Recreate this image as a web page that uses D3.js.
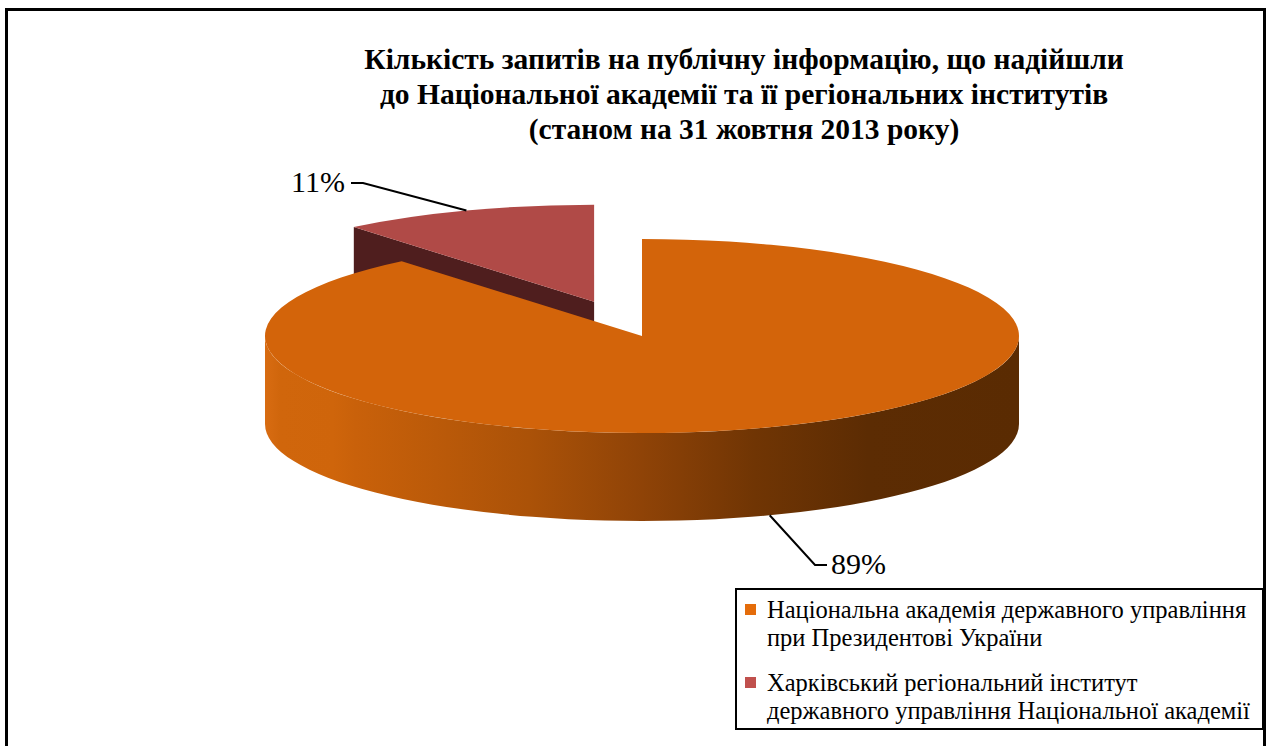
<!DOCTYPE html>
<html>
<head>
<meta charset="utf-8">
<script src="https://cdn.jsdelivr.net/npm/d3@7"></script>
<style>
  html, body { margin: 0; padding: 0; background: #ffffff; }
  svg { display: block; }
  text { font-family: "Liberation Serif", "Times New Roman", serif; fill: #000; }
</style>
</head>
<body>
<svg id="chart" width="1269" height="746"></svg>
<script>
// ---- data ----
const categories = [
  "Національна академія державного управління при Президентові України",
  "Харківський регіональний інститут державного управління Національної академії"
];
const values = [89, 11];
const percentLabels = ["89%", "11%"];
const legendLines = [
  ["Національна академія державного управління", "при Президентові України"],
  ["Харківський регіональний інститут", "державного управління Національної академії"]
];
const titleLines = [
  "Кількість запитів на публічну інформацію, що надійшли",
  "до Національної академії та її регіональних інститутів",
  "(станом на 31 жовтня 2013 року)"
];
const explode = [0, 0.375];

// ---- layout / style ----
const W = 1269, H = 746;
const cx = 642, cy = 336, rx = 377, ry = 97, depth = 88;
const topColors = ["#D3640A", "#B04A47"];
const faceColors = ["#5E2D04", "#4F1E1E"];
const legendColors = ["#E46C0A", "#C0504D"];

const svg = d3.select("#chart");
const defs = svg.append("defs");

const grad = defs.append("linearGradient")
  .attr("id", "sideGrad").attr("gradientUnits", "userSpaceOnUse")
  .attr("x1", cx - rx).attr("x2", cx + rx).attr("y1", 0).attr("y2", 0);
[[0, "#D86C12"], [0.02, "#D0660C"], [0.09, "#CF650B"], [0.12, "#C9610A"],
 [0.35, "#AB5208"], [0.5, "#8F4307"], [0.65, "#703504"], [0.8, "#5C2C03"], [1, "#5A2B02"]]
  .forEach(([o, c]) => grad.append("stop").attr("offset", o).attr("stop-color", c));

// outer frame
svg.append("rect").attr("x", 6.5).attr("y", 9.5).attr("width", 1258).attr("height", 760)
  .attr("fill", "none").attr("stroke", "#000").attr("stroke-width", 3);

// title
const title = svg.append("text").attr("text-anchor", "middle")
  .attr("font-weight", "bold").attr("font-size", 29.5);
titleLines.forEach((t, i) => {
  title.append("tspan").attr("x", 744).attr("y", 69 + i * 35).text(t);
});

// pie angles
const pie = d3.pie().sort(null).startAngle(0).endAngle(2 * Math.PI)(values);

function pt(c, a, dy) {
  return [c[0] + rx * Math.sin(a), c[1] - ry * Math.cos(a) + (dy || 0)];
}
function centerOf(d, i) {
  const mid = (d.startAngle + d.endAngle) / 2;
  const e = explode[i];
  return [cx + e * rx * Math.sin(mid), cy - e * ry * Math.cos(mid)];
}

const slices = pie.map((d, i) => ({ d, i, c: centerOf(d, i) }));
const g = svg.append("g");

// draw back slice (red) first, then front (orange)
const order = [1, 0];
order.forEach(i => {
  const { d, c } = slices[i];
  const a0 = d.startAngle, a1 = d.endAngle;
  const large = (a1 - a0) > Math.PI ? 1 : 0;

  if (i === 1) {
    const p = pt(c, a0);
    const face = d3.path();
    face.moveTo(c[0], c[1]);
    face.lineTo(p[0], p[1]);
    face.lineTo(p[0], p[1] + depth);
    face.lineTo(c[0], c[1] + depth);
    face.closePath();
    g.append("path").attr("d", face.toString()).attr("fill", faceColors[i]);
  }

  const s0 = Math.max(a0, Math.PI / 2), s1 = Math.min(a1, 3 * Math.PI / 2);
  if (s1 > s0) {
    const t0 = pt(c, s0), t1 = pt(c, s1);
    const sd = `M${t0[0]},${t0[1]} A${rx},${ry} 0 0 1 ${t1[0]},${t1[1]}` +
      ` L${t1[0]},${t1[1] + depth} A${rx},${ry} 0 0 0 ${t0[0]},${t0[1] + depth} Z`;
    g.append("path").attr("d", sd).attr("fill", "url(#sideGrad)");
  }

  const p0 = pt(c, a0), p1 = pt(c, a1);
  const td = `M${c[0]},${c[1]} L${p0[0]},${p0[1]} A${rx},${ry} 0 ${large} 1 ${p1[0]},${p1[1]} Z`;
  g.append("path").attr("d", td).attr("fill", topColors[i]);
});

// percentage labels with leader lines
const labelG = svg.append("g");
{
  const { d, c } = slices[0];
  const mid = (d.startAngle + d.endAngle) / 2;
  const a = pt(c, mid, depth);
  const line = d3.line()([a, [815, 565], [827, 565]]);
  labelG.append("path").attr("d", line).attr("fill", "none").attr("stroke", "#000").attr("stroke-width", 2);
  labelG.append("text").attr("x", 831).attr("y", 567).attr("dominant-baseline", "middle")
    .attr("font-size", 30).text(percentLabels[0]);
}
{
  const { d, c } = slices[1];
  const mid = (d.startAngle + d.endAngle) / 2;
  const a = pt(c, mid);
  const line = d3.line()([a, [363, 183], [351, 183]]);
  labelG.append("path").attr("d", line).attr("fill", "none").attr("stroke", "#000").attr("stroke-width", 2);
  labelG.append("text").attr("x", 345).attr("y", 185).attr("text-anchor", "end")
    .attr("dominant-baseline", "middle").attr("font-size", 30).text(percentLabels[1]);
}

// legend
const lg = svg.append("g");
lg.append("rect").attr("x", 736).attr("y", 589).attr("width", 527).attr("height", 140)
  .attr("fill", "#fff").attr("stroke", "#000").attr("stroke-width", 2);
const itemY = [618, 691];
categories.forEach((cat, i) => {
  lg.append("rect").attr("x", 745).attr("y", itemY[i] - 14).attr("width", 11).attr("height", 11)
    .attr("fill", legendColors[i]);
  const t = lg.append("text").attr("font-size", 24.5);
  legendLines[i].forEach((ln, j) => {
    t.append("tspan").attr("x", 767).attr("y", itemY[i] + j * 28).text(ln);
  });
});
</script>
</body>
</html>
